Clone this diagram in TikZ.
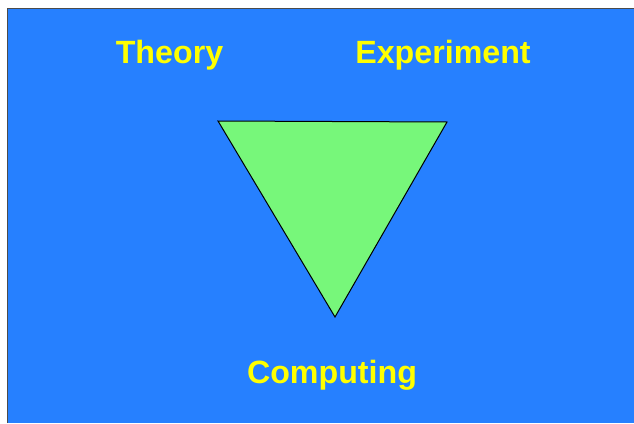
\documentclass[tikz,border=0pt]{standalone}
\usepackage{fontspec}
\setmainfont{Liberation Sans}
\definecolor{bgblue}{HTML}{2680FF}
\definecolor{trigreen}{HTML}{77F77A}
\definecolor{labyellow}{HTML}{FFFF00}
\tikzset{
  lab/.style={text=labyellow, font=\fontsize{32.2}{36}\selectfont\bfseries, anchor=base, inner sep=0pt},
  tri/.style={fill=trigreen, draw=black, line width=1pt, line join=miter}
}
\begin{document}
\begin{tikzpicture}[x=1pt,y=-1pt]
\useasboundingbox (0,0) rectangle (634,423);
\fill[white] (0,0) rectangle (634,423);
\fill[bgblue] (7,8) rectangle (634,423);
\draw[black!70, line width=1.2pt] (7.5,423) -- (7.5,8.5) -- (634,8.5);
\coordinate (A) at (218,121);
\coordinate (B) at (447,122);
\coordinate (C) at (335,317);
\draw[tri] (A) -- (B) -- (C) -- cycle;
\node[lab] (theory) at (169.5,63) {Theory};
\node[lab] (exp) at (443,63) {Experiment};
\node[lab] (comp) at (332,383) {Computing};
\end{tikzpicture}
\end{document}
